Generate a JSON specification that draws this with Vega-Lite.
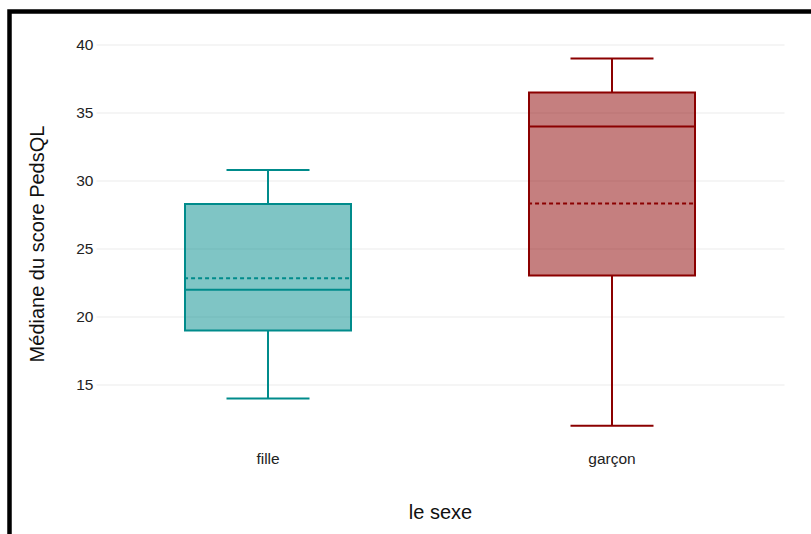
{
  "$schema": "https://vega.github.io/schema/vega-lite/v6.json",
  "autosize": {"type": "none"},
  "padding": {"left": 9.5, "top": 11.5, "right": 0, "bottom": 0},
  "width": 801.5,
  "height": 522.5,
  "background": "white",
  "config": {
    "font": "Liberation Sans",
    "view": {"stroke": "black", "strokeWidth": 4.5, "strokeDash": [801.5, 1324, 522.5, 0], "strokeCap": "square"}
  },
  "data": {
    "values": [
      {"sexe": "fille", "min": 14, "q1": 19, "median": 22, "q3": 28.3, "max": 30.8, "mean": 22.85},
      {"sexe": "garçon", "min": 12, "q1": 23.05, "median": 34, "q3": 36.5, "max": 39, "mean": 28.35}
    ]
  },
  "encoding": {
    "x": {
      "field": "sexe", "type": "nominal", "sort": ["fille", "garçon"],
      "scale": {"range": [86.5, 774.5], "paddingInner": 0, "paddingOuter": 0},
      "axis": {
        "title": "le sexe", "orient": "bottom", "offset": -90, "domain": false, "ticks": false,
        "labelAngle": 0, "labelFontSize": 15.5, "labelColor": "#222222", "labelPadding": 7,
        "titleFontSize": 20, "titleFontWeight": "normal", "titleColor": "#111111", "titlePadding": 36, "grid": false
      }
    }
  },
  "layer": [
    {
      "mark": {"type": "bar", "size": 166, "fillOpacity": 0.5, "strokeWidth": 2},
      "encoding": {
        "y": {
          "field": "q1", "type": "quantitative",
          "scale": {"domain": [4.044, 42.463], "nice": false, "zero": false},
          "axis": {
            "title": "Médiane du score PedsQL", "orient": "left", "offset": -86.5, "domain": false, "ticks": false,
            "values": [15, 20, 25, 30, 35, 40], "labelFontSize": 15.5, "labelColor": "#222222", "labelPadding": 3,
            "grid": true, "gridColor": "#ebebeb", "gridWidth": 1,
            "titleFontSize": 20, "titleFontWeight": "normal", "titleColor": "#111111", "titlePadding": 28, "titleY": 232
          }
        },
        "y2": {"field": "q3"},
        "fill": {"field": "sexe", "type": "nominal", "scale": {"domain": ["fille", "garçon"], "range": ["#008B8B", "#8B0000"]}, "legend": null},
        "stroke": {"field": "sexe", "type": "nominal", "scale": {"domain": ["fille", "garçon"], "range": ["#008B8B", "#8B0000"]}, "legend": null}
      }
    },
    {
      "mark": {"type": "rule", "strokeWidth": 2},
      "encoding": {
        "y": {"field": "q3", "type": "quantitative"},
        "y2": {"field": "max"},
        "color": {"field": "sexe", "type": "nominal", "scale": {"domain": ["fille", "garçon"], "range": ["#008B8B", "#8B0000"]}, "legend": null}
      }
    },
    {
      "mark": {"type": "rule", "strokeWidth": 2},
      "encoding": {
        "y": {"field": "min", "type": "quantitative"},
        "y2": {"field": "q1"},
        "color": {"field": "sexe", "type": "nominal", "scale": {"domain": ["fille", "garçon"], "range": ["#008B8B", "#8B0000"]}, "legend": null}
      }
    },
    {
      "mark": {"type": "tick", "size": 83, "thickness": 2, "opacity": 1},
      "encoding": {
        "y": {"field": "min", "type": "quantitative"},
        "color": {"field": "sexe", "type": "nominal", "scale": {"domain": ["fille", "garçon"], "range": ["#008B8B", "#8B0000"]}, "legend": null}
      }
    },
    {
      "mark": {"type": "tick", "size": 83, "thickness": 2, "opacity": 1},
      "encoding": {
        "y": {"field": "max", "type": "quantitative"},
        "color": {"field": "sexe", "type": "nominal", "scale": {"domain": ["fille", "garçon"], "range": ["#008B8B", "#8B0000"]}, "legend": null}
      }
    },
    {
      "mark": {"type": "tick", "size": 166, "thickness": 2, "opacity": 1},
      "encoding": {
        "y": {"field": "median", "type": "quantitative"},
        "color": {"field": "sexe", "type": "nominal", "scale": {"domain": ["fille", "garçon"], "range": ["#008B8B", "#8B0000"]}, "legend": null}
      }
    },
    {
      "mark": {"type": "rule", "strokeWidth": 2, "strokeDash": [4, 3]},
      "encoding": {
        "x": {"field": "sexe", "type": "nominal", "bandPosition": 0.256},
        "x2": {"field": "sexe", "bandPosition": 0.744},
        "y": {"field": "mean", "type": "quantitative"},
        "color": {"field": "sexe", "type": "nominal", "scale": {"domain": ["fille", "garçon"], "range": ["#008B8B", "#8B0000"]}, "legend": null}
      }
    }
  ]
}
